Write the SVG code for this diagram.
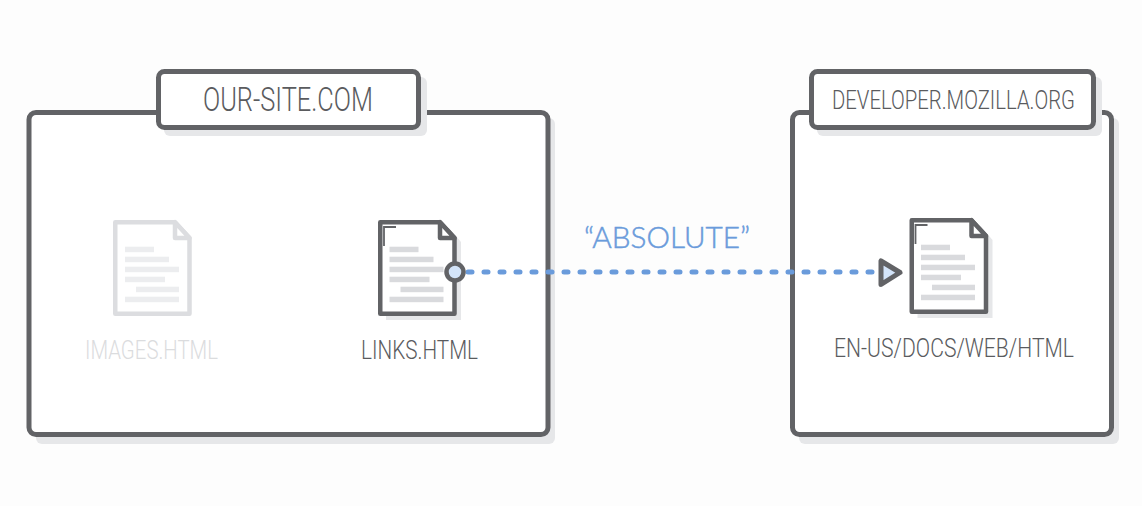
<svg xmlns="http://www.w3.org/2000/svg" width="1142" height="506" viewBox="0 0 1142 506">
<style>
.bg{fill:#fdfdfd}
.sh{fill:#e6e7e9}
.box{fill:#fff;stroke:#626366;stroke-width:5;stroke-linejoin:round}
.t{font-family:"Roboto","Liberation Sans",sans-serif;font-weight:300;fill:#5a5b5e;text-anchor:start}
.ln{fill:#d9dadd}
.page{fill:#fff;stroke:#626366;stroke-width:4.5;stroke-linejoin:round}
.hl{fill:none;stroke:#626366;stroke-width:1.800}
.ln-pale{fill:#ecedef}
.page-pale{fill:#fff;stroke:#dcdde0;stroke-width:4.5;stroke-linejoin:round}
</style>
<defs>
<g id="doc">
<path class="sh" d="M8 8H71L83 22V100H8Z"/>
<path class="page" d="M2.250 2.250H62L76.500 18V93.750H2.250Z"/>
<path class="page" d="M62 2.250V18H76.500Z"/>
<rect class="ln" x="11.500" y="26.700" width="29" height="5.500"/>
<rect class="ln" x="11.500" y="36.700" width="44" height="5.500"/>
<rect class="ln" x="11.500" y="46.700" width="54" height="5.500"/>
<rect class="ln" x="11.500" y="56.700" width="40" height="5.500"/>
<rect class="ln" x="22.500" y="66.700" width="43" height="5.500"/>
<rect class="ln" x="11.500" y="76.700" width="54" height="5.500"/>
<path class="hl" d="M6 26V7H18"/>
</g>
</defs>
<rect class="bg" width="1142" height="506"/>
<g id="site-box">
<rect class="sh" x="36" y="118" width="519" height="326" rx="6"/>
<rect class="box" x="29" y="112.500" width="519" height="322" rx="7"/>
</g>
<g id="mozilla-box">
<rect class="sh" x="799" y="118" width="320" height="326" rx="6"/>
<rect class="box" x="792.500" y="112.500" width="319" height="322" rx="7"/>
</g>
<g id="site-tab">
<rect class="sh" x="164" y="77" width="263" height="59" rx="6"/>
<rect class="box" x="158.500" y="71.500" width="260" height="56" rx="6"/>
<text class="t" x="203" y="110.800" font-size="32.500" textLength="170" lengthAdjust="spacingAndGlyphs">OUR-SITE.COM</text>
</g>
<g id="mozilla-tab">
<rect class="sh" x="817" y="77" width="285" height="59" rx="6"/>
<rect class="box" x="811.500" y="71.500" width="282" height="56" rx="6"/>
<text class="t" x="832" y="109" font-size="26" textLength="243" lengthAdjust="spacingAndGlyphs">DEVELOPER.MOZILLA.ORG</text>
</g>
<g id="images-doc" transform="translate(113 220)">
<path class="page-pale" d="M2.250 2.250H62L76.500 18V93.750H2.250Z"/>
<path class="page-pale" d="M62 2.250V18H76.500Z"/>
<rect class="ln-pale" x="12" y="26.700" width="29" height="5.500"/>
<rect class="ln-pale" x="12" y="36.700" width="44" height="5.500"/>
<rect class="ln-pale" x="12" y="46.700" width="54" height="5.500"/>
<rect class="ln-pale" x="12" y="56.700" width="40" height="5.500"/>
<rect class="ln-pale" x="23" y="66.700" width="43" height="5.500"/>
<rect class="ln-pale" x="12" y="76.700" width="54" height="5.500"/>
<text class="t" x="-28" y="139" font-size="25" textLength="133" lengthAdjust="spacingAndGlyphs" style="fill:#dbdcde">IMAGES.HTML</text>
</g>
<g id="links-doc">
<use href="#doc" x="378" y="220"/>
<text class="t" x="361" y="359" font-size="25" textLength="117" lengthAdjust="spacingAndGlyphs">LINKS.HTML</text>
</g>
<g id="web-doc">
<use href="#doc" x="909.500" y="218"/>
<text class="t" x="834" y="357" font-size="25" textLength="240" lengthAdjust="spacingAndGlyphs">EN-US/DOCS/WEB/HTML</text>
</g>
<g id="connectors">
<path d="M468 272H873" fill="none" stroke="#6a9bdb" stroke-width="5" stroke-linecap="round" stroke-dasharray="4 12"/>
<circle cx="455" cy="272" r="8.500" fill="#d3e4f9" stroke="#626366" stroke-width="4.500"/>
<path d="M881 261V284.500L900 272.500Z" fill="#d3e4f9" stroke="#626366" stroke-width="5" stroke-linejoin="round"/>
</g>
<text id="absolute-label" x="584" y="248" font-family="Lato,'Open Sans',sans-serif" font-weight="300" font-size="30" fill="#6a9bdb" stroke="#6a9bdb" stroke-width="0.500" textLength="166" lengthAdjust="spacingAndGlyphs">“ABSOLUTE”</text>
</svg>
